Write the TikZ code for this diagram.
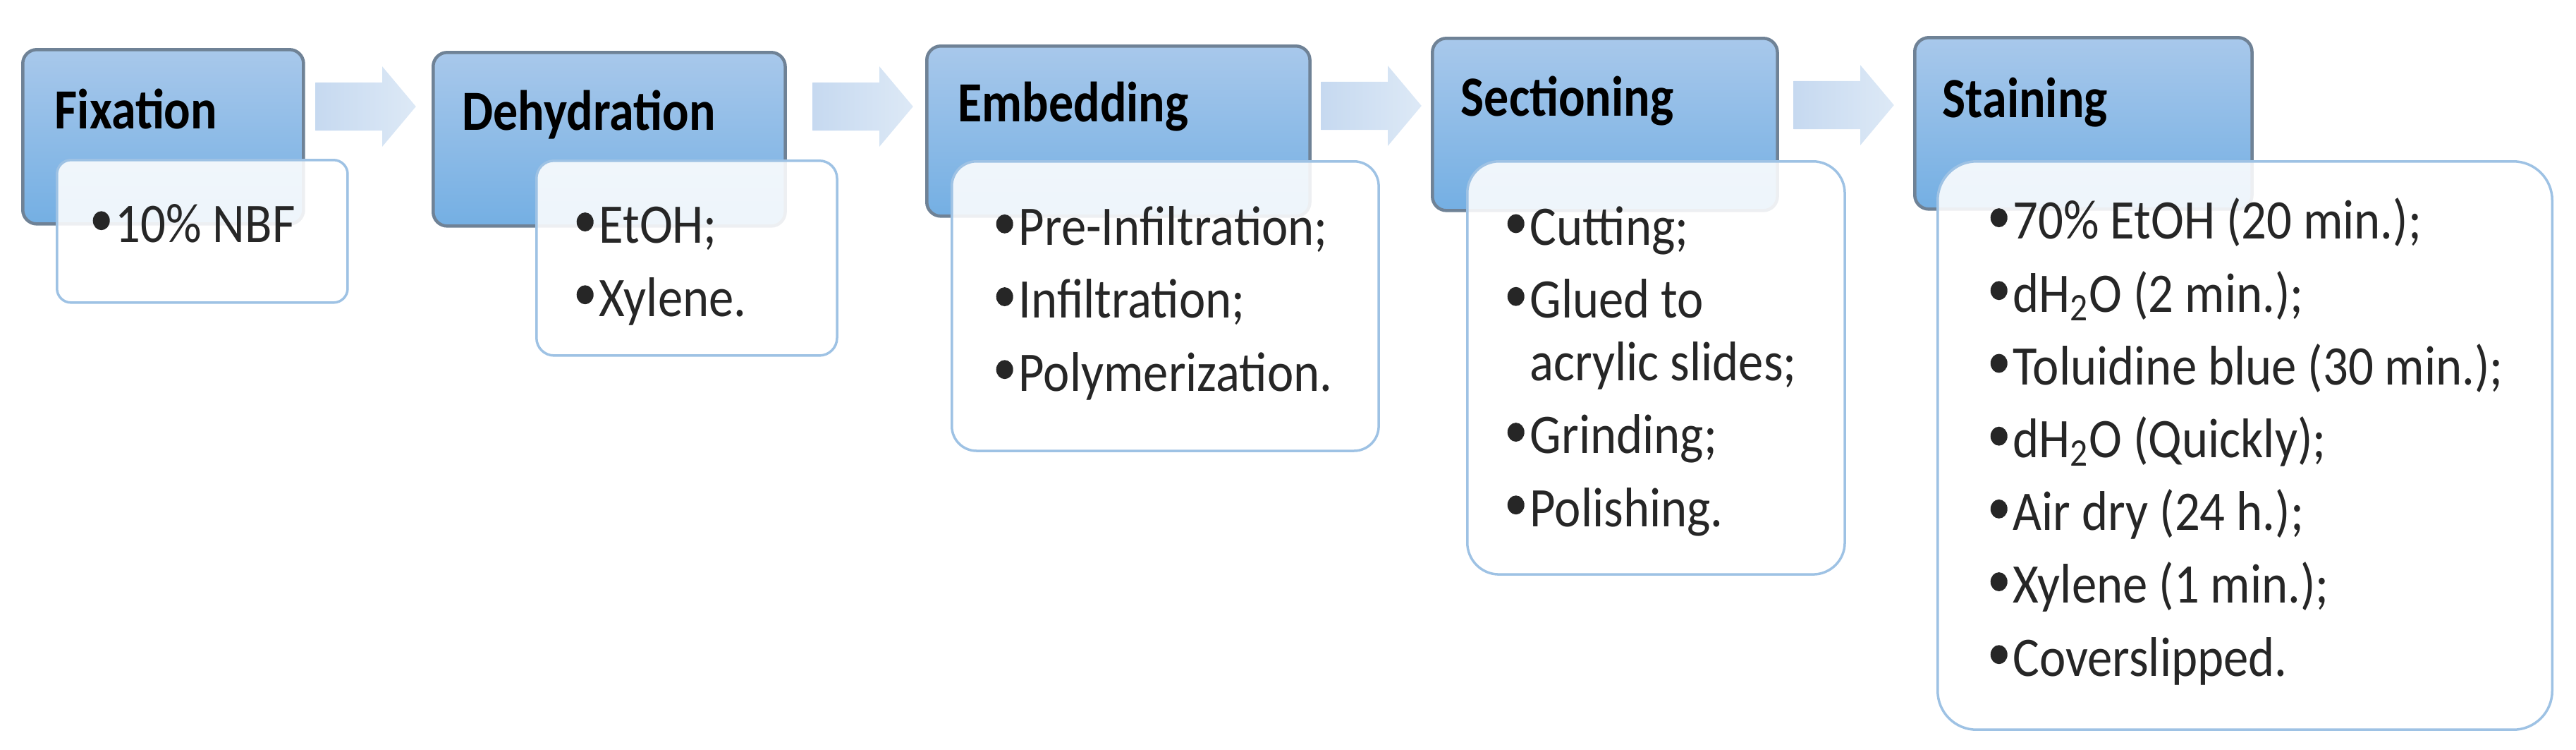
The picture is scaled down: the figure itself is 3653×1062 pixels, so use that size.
\documentclass[tikz,border=0pt]{standalone}
\usepackage{fontspec}
\setmainfont{Carlito}
\usetikzlibrary{shapes.arrows}

\definecolor{headtop}{HTML}{A8C8EB}
\definecolor{headbot}{HTML}{74AFE3}
\definecolor{headline}{HTML}{6F8296}
\definecolor{noteline}{HTML}{9EC2E4}
\definecolor{notetextcol}{HTML}{262626}
\definecolor{arrowleft}{HTML}{C6D9F0}
\definecolor{arrowright}{HTML}{DDE9F6}

% bullet drawn as a filled dot
\newcommand{\itemdot}{\tikz[baseline=0pt]\fill[notetextcol] (0.12cm,0.27cm) circle[radius=0.12cm];\hspace{0.08cm}}

\begin{document}
\begin{tikzpicture}[
    x=0.01cm, y=-0.01cm,
    headbox/.style={rectangle, draw=headline, line width=0.045cm, rounded corners=0.2cm, top color=headtop, bottom color=headbot, anchor=north west, inner sep=0},
    notebox/.style={rectangle, draw=noteline, line width=0.035cm, fill=white, fill opacity=0.88, anchor=north west, inner sep=0},
    headlabel/.style={anchor=base west, inner sep=0, yscale=1.15, font=\bfseries\fontsize{19.9pt}{24pt}\selectfont, text=black},
    notetext/.style={anchor=base west, inner sep=0, yscale=1.12, align=left, text=notetextcol, font=\fontsize{20.1pt}{26.2pt}\selectfont},
    steparrow/.style={single arrow, single arrow head extend=0.225cm, single arrow tip angle=100, minimum height=1.42cm, inner xsep=0, inner ysep=0.335cm, left color=arrowleft, right color=arrowright, anchor=tail}
]
\useasboundingbox (0,0) rectangle (3653,1062);

% Fixation
\node[headbox, minimum width=3.98cm, minimum height=2.47cm] (fixhead) at (30,68) {};
\node[notebox, rounded corners=0.2cm, minimum width=4.12cm, minimum height=2.02cm] (fixnote) at (79,225) {};
\node[headlabel] (fixlabel) at (77,182) {Fixation};
\node[notetext] (fixtext) at (131,343) {\itemdot 10\% NBF};
\node[steparrow] (arrfix) at (447,151) {};

% Dehydration (text nodes sit on the baseline of their last line)
\node[headbox, minimum width=4.99cm, minimum height=2.46cm] (dehhead) at (612,72) {};
\node[notebox, rounded corners=0.25cm, minimum width=4.26cm, minimum height=2.76cm] (dehnote) at (759,226) {};
\node[headlabel] (dehlabel) at (655,184) {Dehydration};
\node[notetext] (dehtext) at (817,448) {\itemdot EtOH;\\ \itemdot Xylene.};
\node[steparrow] (arrdeh) at (1152,151) {};

% Embedding
\node[headbox, minimum width=5.43cm, minimum height=2.41cm] (embhead) at (1312,63) {};
\node[notebox, rounded corners=0.35cm, minimum width=6.05cm, minimum height=4.10cm] (embnote) at (1348,227) {};
\node[headlabel] (emblabel) at (1358,172) {Embedding};
\node[notetext] (embtext) at (1412,554) {\itemdot Pre-Infiltration;\\ \itemdot Infiltration;\\ \itemdot Polymerization.};
\node[steparrow] (arremb) at (1873,150) {};

% Sectioning
\node[headbox, minimum width=4.89cm, minimum height=2.44cm] (sechead) at (2029,52) {};
\node[notebox, rounded corners=0.45cm, minimum width=5.35cm, minimum height=5.85cm] (secnote) at (2079,227) {};
\node[headlabel] (seclabel) at (2071,164) {Sectioning};
\node[notetext] (sectext) at (2137,746) {\itemdot Cutting;\\ \itemdot Glued to\\[-0.125cm] \phantom{\itemdot}acrylic slides;\\ \itemdot Grinding;\\ \itemdot Polishing.};
\node[steparrow] (arrsec) at (2543,149) {};

% Staining
\node[headbox, minimum width=4.78cm, minimum height=2.43cm] (stahead) at (2713,51) {};
\node[notebox, rounded corners=0.55cm, minimum width=8.71cm, minimum height=8.05cm] (stanote) at (2746,227) {};
\node[headlabel] (stalabel) at (2754,166) {Staining};
\node[notetext] (statext) at (2822,958) {\itemdot 70\% EtOH (20 min.);\\ \itemdot dH\textsubscript{2}O (2 min.);\\ \itemdot Toluidine blue (30 min.);\\ \itemdot dH\textsubscript{2}O (Quickly);\\ \itemdot Air dry (24 h.);\\ \itemdot Xylene (1 min.);\\ \itemdot Coverslipped.};
\end{tikzpicture}
\end{document}
